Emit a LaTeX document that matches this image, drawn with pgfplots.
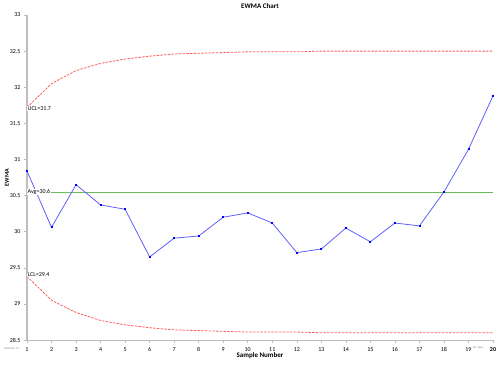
\documentclass[border=0pt]{standalone}
\usepackage{pgfplots}
\pgfplotsset{compat=1.18}
\usepackage{fontspec}
\setmainfont{Carlito}
\definecolor{ewblue}{RGB}{95,95,250}
\definecolor{ewred}{RGB}{250,95,95}
\definecolor{ewgreen}{RGB}{105,190,90}
\definecolor{axgray}{RGB}{190,190,190}
\begin{document}
\begin{tikzpicture}
\begin{axis}[
  scale only axis,
  width=466pt, height=325pt,
  xmin=1, xmax=20, ymin=28.5, ymax=33,
  axis x line*=bottom, axis y line*=left,
  x axis line style={-, draw=axgray, line width=0.8pt},
  y axis line style={-, draw=axgray, line width=1.6pt},
  xtick={1,...,20},
  xticklabels={1,2,3,4,5,6,7,8,9,10,11,12,13,14,15,16,17,18,19,\textbf{20}},
  ytick={28.5,29,...,33},
  tick style={draw=axgray, line width=0.5pt},
  tick align=outside, major tick length=3pt,
  /pgf/number format/assume math mode=true,
  /pgf/number format/.cd, fixed, precision=1,
  /pgfplots/.cd,
  tick label style={font=\fontsize{6}{7}\selectfont, text=black},
  xticklabel style={yshift=-1pt},
  xlabel={\textbf{Sample Number}},
  xlabel style={font=\fontsize{7}{8}\selectfont, yshift=6pt},
  ylabel={\textbf{EWMA}},
  ylabel style={font=\fontsize{6}{7}\selectfont, yshift=-6pt},
  clip=false,
]
\addplot[ewred, line width=0.8pt, dash pattern=on 2.5pt off 1.2pt] coordinates {
(1,31.72)(2,32.05)(3,32.23)(4,32.33)(5,32.39)(6,32.43)(7,32.46)(8,32.47)(9,32.48)(10,32.49)
(11,32.49)(12,32.49)(13,32.50)(14,32.50)(15,32.50)(16,32.50)(17,32.50)(18,32.50)(19,32.50)(20,32.50)};
\addplot[ewred, line width=0.8pt, dash pattern=on 2.5pt off 1.2pt] coordinates {
(1,29.38)(2,29.05)(3,28.88)(4,28.77)(5,28.71)(6,28.67)(7,28.64)(8,28.63)(9,28.62)(10,28.61)
(11,28.61)(12,28.61)(13,28.60)(14,28.60)(15,28.60)(16,28.60)(17,28.60)(18,28.60)(19,28.60)(20,28.60)};
\addplot[ewgreen, line width=0.8pt] coordinates {(1,30.55)(20,30.55)};
\addplot[ewblue, line width=0.8pt, mark=square*, mark size=0.5pt, mark options={fill=blue, draw=blue}] coordinates {
(1,30.84)(2,30.06)(3,30.65)(4,30.37)(5,30.31)(6,29.65)(7,29.91)(8,29.94)(9,30.20)(10,30.26)
(11,30.12)(12,29.71)(13,29.76)(14,30.05)(15,29.86)(16,30.12)(17,30.08)(18,30.55)(19,31.14)(20,31.88)};
\node[anchor=west, fill=white, inner sep=0.5pt, font=\fontsize{6}{7}\selectfont] at (axis cs:1,31.70) {UCL=31.7};
\node[anchor=west, fill=white, inner sep=0.5pt, font=\fontsize{6}{7}\selectfont] at (axis cs:1,30.55) {Avg=30.6};
\node[anchor=west, fill=white, inner sep=0.5pt, font=\fontsize{6}{7}\selectfont] at (axis cs:1,29.40) {LCL=29.4};
\node[font=\fontsize{7}{8}\selectfont\bfseries] at ([yshift=9pt]rel axis cs:0.5,1) {EWMA Chart};
\node[anchor=east, font=\fontsize{3}{3}\selectfont, text=gray] at ([xshift=-4pt, yshift=-8pt]rel axis cs:0,0) {Baseline 1-1};
\node[anchor=east, font=\fontsize{3}{3}\selectfont, text=gray] at ([xshift=-6pt, yshift=-8pt]rel axis cs:1,0) {Ex: Spec};
\coordinate (bl) at (rel axis cs:0,0);
\coordinate (tr) at (rel axis cs:1,1);
\end{axis}
\pgfresetboundingbox
\path ([shift={(-27pt,-25pt)}]bl) rectangle ([shift={(7pt,15pt)}]tr);
\end{tikzpicture}
\end{document}
